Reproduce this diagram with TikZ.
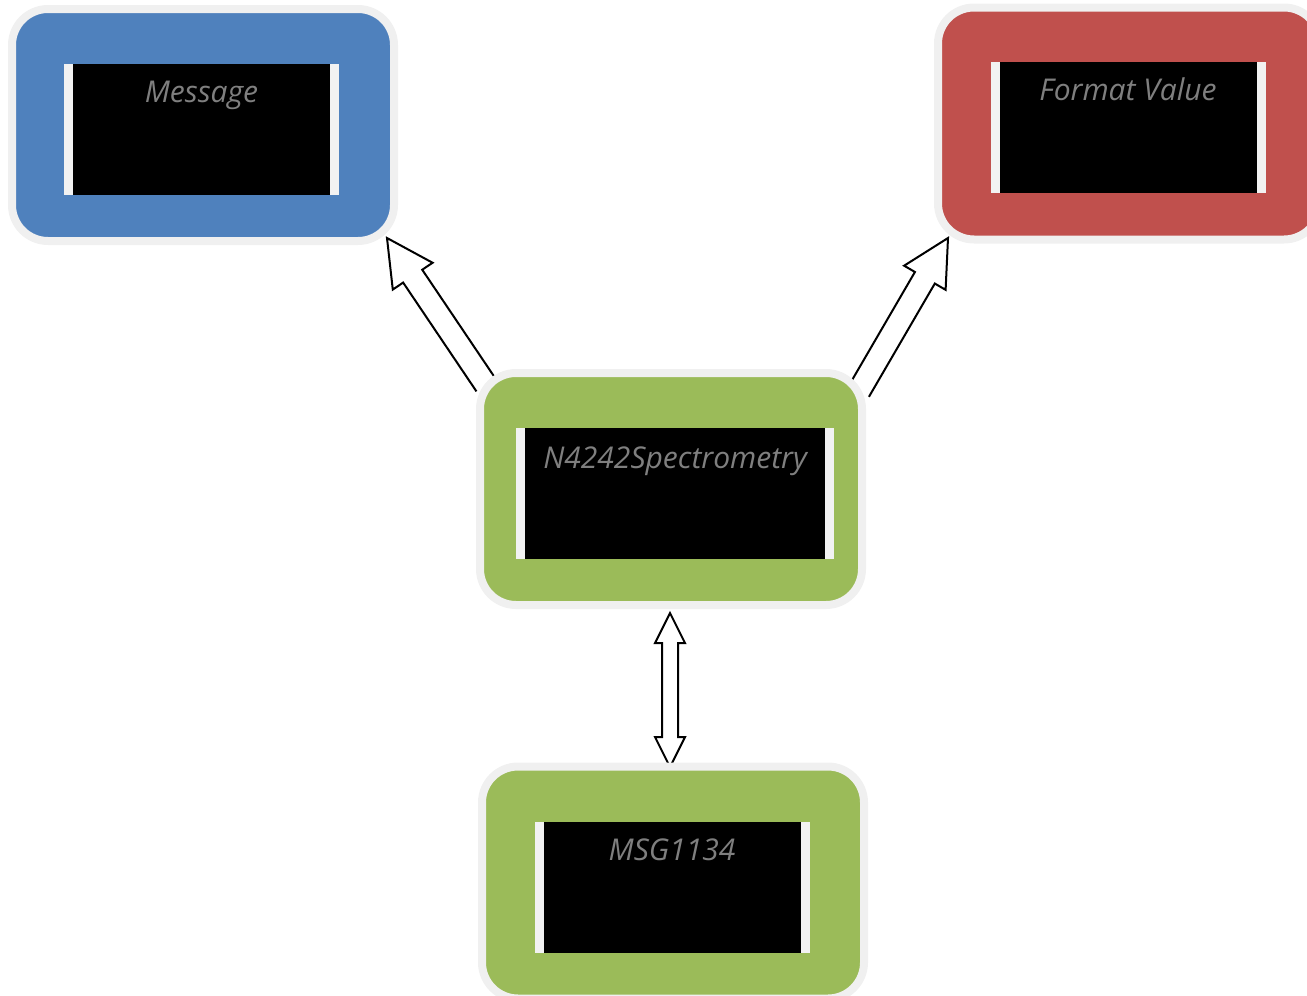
\documentclass[tikz,border=0pt]{standalone}
\usepackage{fontspec}
\newfontfamily\tagfamily{Open Sans}
\usetikzlibrary{calc}

\definecolor{msgblue}{HTML}{4F81BD}
\definecolor{fmtred}{HTML}{C0504D}
\definecolor{specgreen}{HTML}{9BBB59}
\definecolor{rimgray}{HTML}{F0F0F0}
\definecolor{bargray}{HTML}{F2F2F2}
\definecolor{taggray}{HTML}{7F7F7F}

\tikzstyle{card}=[rectangle, rounded corners=18pt, draw=rimgray, line width=4pt,
  minimum width=191pt, minimum height=116pt, inner sep=0pt]
\tikzstyle{screen}=[rectangle, fill=bargray, minimum width=137.5pt, minimum height=65.5pt, inner sep=0pt,
  path picture={\fill[black] ([xshift=4.5pt]path picture bounding box.south west)
    rectangle ([xshift=-4.5pt]path picture bounding box.north east);}]
\tikzstyle{tag}=[anchor=base, inner sep=0pt, text=taggray,
  font=\tagfamily\itshape\fontsize{15}{17}\selectfont]
\tikzstyle{arrow}=[line width=1pt, line join=miter]

% hollow block arrow: #1 tail, #2 tip
\newcommand{\blockarrow}[2]{%
  \coordinate (ba-h) at ($(#2)!23pt!(#1)$);
  \draw[arrow] ($(#1)!5.75pt!90:(#2)$) -- ($(ba-h)!5.75pt!90:(#2)$) -- ($(ba-h)!12pt!90:(#2)$)
    -- (#2) -- ($(ba-h)!12pt!-90:(#2)$) -- ($(ba-h)!5.75pt!-90:(#2)$) -- ($(#1)!5.75pt!-90:(#2)$);
}
% hollow block arrow with two heads
\newcommand{\twowayarrow}[2]{%
  \coordinate (tw-a) at ($(#1)!15pt!(#2)$);
  \coordinate (tw-b) at ($(#2)!15pt!(#1)$);
  \draw[arrow] (#1) -- ($(tw-a)!7.5pt!90:(#2)$) -- ($(tw-a)!4pt!90:(#2)$) -- ($(tw-b)!4pt!90:(#2)$)
    -- ($(tw-b)!7.5pt!90:(#2)$) -- (#2) -- ($(tw-b)!7.5pt!-90:(#2)$) -- ($(tw-b)!4pt!-90:(#2)$)
    -- ($(tw-a)!4pt!-90:(#2)$) -- ($(tw-a)!7.5pt!-90:(#2)$) -- cycle;
}

\begin{document}
\begin{tikzpicture}[x=0.5pt, y=-0.5pt]
      \useasboundingbox (0,0) rectangle (1307,996);

      % arrows first, the cards hide their tails
      \coordinate (spec-l) at (486,385);
      \coordinate (msg-tip) at (387,238);
      \coordinate (spec-r) at (859,391);
      \coordinate (fmt-tip) at (948,238);
      \coordinate (spec-b) at (670,613);
      \coordinate (code-t) at (670,767);
      \blockarrow{spec-l}{msg-tip}
      \blockarrow{spec-r}{fmt-tip}
      \twowayarrow{spec-b}{code-t}

      \node[card, fill=msgblue] (msg) at (203,125) {};
      \node[card, fill=fmtred] (fmt) at (1129,123.5) {};
      \node[card, fill=specgreen] (spec) at (671,489) {};
      \node[card, fill=specgreen] (code) at (673,882.5) {};

      \node[screen] (msgscr) at (201.5,129.5) {};
      \node[screen] (fmtscr) at (1128,127.5) {};
      \node[screen, minimum width=159pt] (specscr) at (675,493.5) {};
      \node[screen] (codescr) at (672,887.5) {};

      \node[tag] (msgtag) at ([yshift=-19.5pt]msgscr.north) {Message};
      \node[tag] (fmttag) at ([yshift=-19.5pt]fmtscr.north) {Format Value};
      \node[tag] (spectag) at ([yshift=-20.5pt]specscr.north) {N4242Spectrometry};
      \node[tag] (codetag) at ([yshift=-19.5pt]codescr.north) {MSG1134};
    \end{tikzpicture}
\end{document}
